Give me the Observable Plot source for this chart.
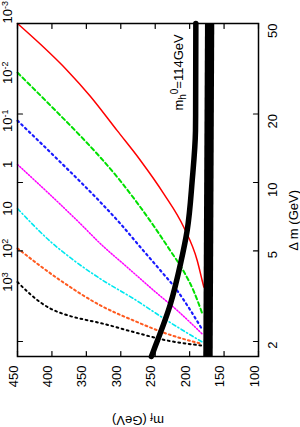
<!DOCTYPE html>
<html><head><meta charset="utf-8">
<script src="https://cdn.jsdelivr.net/npm/d3@7"></script>
<script src="https://cdn.jsdelivr.net/npm/@observablehq/plot@0.6"></script>
<style>
body{margin:0;background:#fff}
svg{display:block;font-family:"Liberation Sans",Arial,sans-serif}
</style>
</head><body><div id="chart"></div>
<script>
// tick values
const xTicks = [450, 400, 350, 300, 250, 200, 150, 100];
const yTicks = [50, 20, 10, 5, 2];
// lifetime contour labels (left edge) and their starting Δm at m_f = 450
const lifetimeLabels = ["10^-3", "10^-2", "10^-1", "1", "10", "10^2", "10^3"];
const lifetimeStartDm = [50, 30.4, 18.7, 12.0, 7.68, 5.13, 3.65];

// contour series: m_f (GeV) and Δm (GeV)
const redM = [450, 416.6, 377.8, 344.0, 305.2, 271.4, 237.5, 208.5, 189.0, 181.8, 179.4];
const redDm = [50, 40.5, 31.1, 23.9, 16.9, 12.5, 8.92, 6.36, 4.54, 3.71, 3.47];
const greenM = [450, 402.1, 353.7, 329.5, 300.4, 276.2, 252.1, 227.8, 208.5, 193.9, 181.8];
const greenDm = [30.4, 21.8, 15.45, 12.88, 10.14, 8.14, 6.44, 5.00, 4.06, 3.32, 2.66];
const blueM = [450, 387.6, 329.5, 300.4, 271.4, 242.3, 218.1, 198.8, 181.8];
const blueDm = [18.7, 12.28, 8.19, 6.58, 5.19, 4.10, 3.35, 2.74, 2.26];
const magentaM = [450, 358.5, 329.5, 290.6, 252.1, 218.1, 181.8];
const magentaDm = [12.0, 6.58, 5.38, 4.24, 3.35, 2.74, 2.16];
const cyanM = [450, 402.1, 365.8, 329.5, 281.1, 232.6, 181.8];
const cyanDm = [7.68, 5.50, 4.49, 3.77, 3.08, 2.47, 1.99];
const orangeM = [450, 387.6, 329.5, 281.1, 232.6, 181.8];
const orangeDm = [5.13, 3.71, 2.88, 2.47, 2.16, 1.95];
const blackDotM = [450, 431.1, 416.6, 402.1, 377.8, 353.7, 329.5, 281.1, 232.6, 181.8];
const blackDotDm = [3.65, 3.22, 2.97, 2.79, 2.61, 2.50, 2.41, 2.20, 2.02, 1.92];

// Higgs mass contour m_h0 = 114 GeV
const higgsM = [191, 191.3, 191.5, 196.3, 203.6, 213.3, 227.8, 252.1, 255.5];
const higgsDm = [50, 20, 16.9, 10.2, 6.15, 4.39, 2.93, 1.83, 1.72];

// top-mass band (edges in m_f)
const bandDm = [1.72, 50];
const bandLo = [165.8, 163.5];
const bandHi = [179.5, 177];

const pts = (ms, ds) => ms.map((m, i) => ({m, dm: ds[i]}));
const band = bandDm.map((d, i) => ({dm: d, lo: bandLo[i], hi: bandHi[i]}));

const tickShape = {draw(ctx, l) { ctx.moveTo(0, 0); ctx.lineTo(0, -l); }};
const tickOpts = {length: 5, anchor: "start", shape: tickShape, stroke: "black", strokeWidth: 1.2};

const lineStyle = (ms, ds, o) => Plot.line(pts(ms, ds), {x: "m", y: "dm", curve: "monotone-x", ...o});

const plot = Plot.plot({
  width: 300,
  height: 427,
  marginLeft: 17,
  marginRight: 42,
  marginTop: 23,
  marginBottom: 71,
  style: {fontFamily: "Liberation Sans, Arial, sans-serif", fontSize: "13px", background: "white"},
  x: {domain: [450, 100], axis: null},
  y: {type: "log", domain: [1.718, 50], axis: null},
  marks: [
    lineStyle(blackDotM, blackDotDm, {stroke: "black", strokeWidth: 2, strokeDasharray: "1.8,3.5"}),
    lineStyle(orangeM, orangeDm, {stroke: "#ff5a1f", strokeWidth: 2, strokeDasharray: "2,3"}),
    lineStyle(cyanM, cyanDm, {stroke: "#00e8f0", strokeWidth: 1.6, strokeDasharray: "4,2.5,1.2,2.5"}),
    lineStyle(magentaM, magentaDm, {stroke: "#ff00ff", strokeWidth: 1.5, strokeDasharray: "1.3,1.7"}),
    lineStyle(blueM, blueDm, {stroke: "#1a1aff", strokeWidth: 2.2, strokeDasharray: "1.8,3.5"}),
    lineStyle(greenM, greenDm, {stroke: "#00e000", strokeWidth: 2, strokeDasharray: "4,3"}),
    lineStyle(redM, redDm, {stroke: "#ff0000", strokeWidth: 1.5}),
    Plot.areaX(band, {y: "dm", x1: "lo", x2: "hi", fill: "black"}),
    Plot.line(pts(higgsM, higgsDm), {x: "m", y: "dm", curve: "monotone-y", stroke: "black", strokeWidth: 5.5}),
    Plot.frame({stroke: "black", strokeWidth: 1.5}),
    // inward ticks
    Plot.vector(xTicks, {x: d => d, frameAnchor: "bottom", rotate: 0, ...tickOpts}),
    Plot.vector(xTicks, {x: d => d, frameAnchor: "top", rotate: 180, ...tickOpts}),
    Plot.vector(yTicks, {y: d => d, frameAnchor: "right", rotate: -90, ...tickOpts}),
    Plot.vector(yTicks, {y: d => d, frameAnchor: "left", rotate: 90, ...tickOpts}),
    // tick labels
    Plot.text(xTicks, {x: d => d, frameAnchor: "bottom", dy: 9, rotate: -90, textAnchor: "end", text: d => String(d), fill: "black"}),
    Plot.text(yTicks, {y: d => d, frameAnchor: "right", dx: 14.5, rotate: -90, text: d => String(d), fill: "black"}),
    // axis titles
    Plot.text(["m_f (GeV)"], {frameAnchor: "bottom", dy: 59, rotate: 180, text: d => d, fill: "black"}),
    Plot.text(["Δ m (GeV)"], {frameAnchor: "right", dx: 35, rotate: -90, text: d => d, fill: "black"}),
    // lifetime labels
    Plot.text(lifetimeLabels.slice(0, 1), {x: () => 450, y: (d, i) => lifetimeStartDm[i], dx: -9.5, rotate: -90, textAnchor: "start", text: d => d, fill: "black"}),
    Plot.text(lifetimeLabels.slice(1), {x: () => 450, y: (d, i) => lifetimeStartDm[i + 1], dx: -9.5, rotate: -90, text: d => d, fill: "black"}),
    // Higgs label
    Plot.text(["m_h^0=114GeV"], {x: () => 215, y: () => 20.7, rotate: -90, textAnchor: "start", text: d => d, fill: "black"})
  ]
});

d3.select(plot).selectAll("text").each(function () {
  const t = this.textContent;
  const sel = d3.select(this);
  let m;
  if ((m = t.match(/^10\^(-?\d)$/))) {
    sel.text("10");
    sel.append("tspan").attr("dy", "-4px").attr("font-size", "9px").text(m[1]);
  } else if (t === "m_f (GeV)") {
    sel.text("m");
    sel.append("tspan").attr("dy", "3px").attr("font-size", "10px").text("f");
    sel.append("tspan").attr("dy", "-3px").text(" (GeV)");
  } else if (t === "m_h^0=114GeV") {
    sel.text("m");
    sel.append("tspan").attr("dy", "3px").attr("font-size", "10px").text("h");
    sel.append("tspan").attr("dy", "-8px").attr("font-size", "10px").text("0");
    sel.append("tspan").attr("dy", "5px").text("=114GeV");
  }
});

document.getElementById("chart").appendChild(plot);
</script>
</body></html>
